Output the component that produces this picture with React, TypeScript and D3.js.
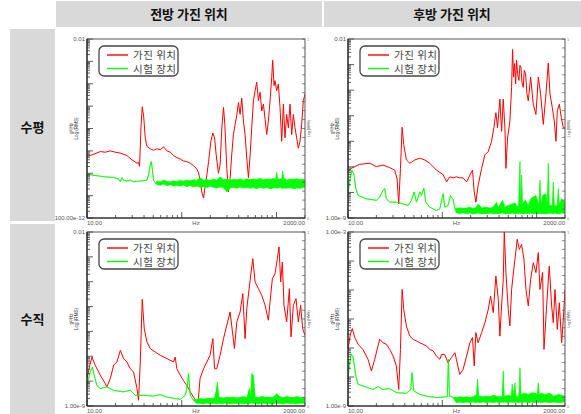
import React from 'react';
import * as d3 from 'd3';

// [Hz, log10(g²/Hz)]
type Pt = [number, number];
// [Hz, log10 low, log10 high] - green trace, min/max per step
type Band = [number, number, number];

const COL_TITLES = ['전방 가진 위치', '후방 가진 위치'];
const ROW_TITLES = ['수평', '수직'];
const LEGEND_LABELS = ['가진 위치', '시험 장치'];
const X_DOMAIN: [number, number] = [10, 2000];
const X_LABELS = ['10.00', 'Hz', '2000.00'];

// decade range per panel [bottom, top], order: 전방-수평, 후방-수평, 전방-수직, 후방-수직
const Y_DECADES: [number, number][] = [[-10, -2], [-9, -2], [-9, -2], [-9, -3]];
const Y_LABELS: [string, string][] = [
  ['0.01', '100.00e-12'],
  ['0.01', '1.00e-9'],
  ['0.01', '1.00e-9'],
  ['1.00e-3', '1.00e-9'],
];

// 전방 / 수평
const redFrontH: Pt[] = [
  [10, -7.25], [11.8, -7.15], [13.8, -7.03], [15.6, -7.06], [17.6, -7.0], [19.9, -7.06], [22.5, -7.1],
  [26.4, -7.21], [29.8, -7.4], [33.7, -7.55], [35.0, -7.51], [35.9, -7.69], [37.1, -5.97], [38.3, -5.03],
  [39.6, -5.44], [41.2, -6.42], [42.9, -6.8], [46.5, -6.91], [50.4, -6.97], [54.7, -6.91], [59.3, -6.95],
  [64.3, -6.82], [69.7, -7.0], [75.6, -7.06], [81.9, -7.21], [88.8, -7.3], [96.3, -7.36], [104, -7.45],
  [113, -7.48], [123, -7.55], [133, -7.66], [144, -7.81], [150, -7.96], [156, -8.31], [163, -8.84],
  [170, -9.11], [175, -8.69], [181, -8.31], [192, -7.48], [203, -6.57], [213, -6.2], [222, -6.42],
  [231, -7.18], [244, -8.0], [254, -7.63], [265, -5.97], [276, -5.06], [285, -5.82], [299, -7.78],
  [311, -8.84], [324, -8.23], [337, -7.18], [351, -6.27], [366, -5.82], [381, -5.4], [397, -4.84],
  [413, -5.37], [430, -4.64], [448, -5.67], [466, -6.27], [486, -7.33], [506, -8.2], [527, -7.18],
  [548, -5.97], [571, -4.76], [595, -4.31], [619, -3.93], [645, -4.76], [671, -4.38], [699, -5.22],
  [728, -4.91], [758, -5.59], [789, -6.27], [821, -5.67], [855, -4.76], [891, -3.71], [912, -2.95],
  [943, -4.08], [965, -3.86], [1005, -4.31], [1047, -4.01], [1090, -5.06], [1135, -6.57], [1182, -4.91],
  [1231, -6.42], [1281, -5.37], [1335, -5.97], [1390, -4.91], [1447, -6.27], [1507, -5.37], [1569, -5.97],
  [1634, -6.42], [1701, -6.88], [1772, -6.57], [1844, -5.82], [1920, -4.76], [2000, -4.46],
];
const greenFrontH: Band[] = [
  [10, -8.04, -8.04], [11.3, -8.08, -8.08], [12.7, -8.11, -8.11], [15.6, -8.16, -8.16], [19.1, -8.19, -8.19],
  [21.6, -8.26, -8.26], [22.5, -8.38, -8.38], [23.4, -8.2, -8.2], [24.3, -8.31, -8.31], [26.4, -8.35, -8.35],
  [28.6, -8.31, -8.31], [31.0, -8.38, -8.38], [36.5, -8.35, -8.35], [42.9, -8.31, -8.31], [44.7, -8.08, -8.08],
  [46.5, -7.63, -7.63], [47.6, -7.48, -7.48], [48.8, -7.78, -7.78], [50.4, -8.31, -8.31], [52.5, -8.42, -8.42],
  [54.7, -8.51, -8.36], [59.3, -8.54, -8.39], [64.3, -8.48, -8.31], [69.7, -8.55, -8.36], [75.6, -8.51, -8.39],
  [81.9, -8.57, -8.34], [88.8, -8.54, -8.37], [96.3, -8.58, -8.32], [104, -8.52, -8.36], [113, -8.6, -8.31],
  [123, -8.55, -8.34], [133, -8.61, -8.29], [144, -8.57, -8.32], [156, -8.63, -8.2], [170, -8.6, -8.31],
  [184, -8.64, -8.28], [199, -8.58, -8.32], [216, -8.63, -8.26], [234, -8.66, -8.31], [254, -8.61, -8.16],
  [276, -8.64, -8.29], [299, -8.84, -8.26], [324, -8.66, -8.31], [351, -8.63, -8.28], [381, -8.67, -8.29],
  [413, -8.61, -8.26], [448, -8.66, -8.31], [486, -8.63, -8.25], [527, -8.67, -8.29], [571, -8.64, -8.26],
  [619, -8.69, -8.28], [671, -8.63, -8.23], [728, -8.67, -8.29], [789, -8.64, -8.26], [855, -8.69, -8.28],
  [927, -8.66, -8.23], [981, -8.64, -8.26], [1005, -8.67, -7.96], [1030, -8.66, -8.28], [1090, -8.64, -8.26],
  [1135, -8.66, -8.26], [1163, -8.69, -7.9], [1192, -8.66, -8.28], [1231, -8.66, -8.23], [1281, -8.67, -8.31],
  [1390, -8.64, -8.26], [1507, -8.69, -8.28], [1634, -8.66, -8.25], [1772, -8.67, -8.29], [1920, -8.64, -8.26],
  [2000, -8.63, -8.32],
];

// 후방 / 수평
const redRearH: Pt[] = [
  [10, -7.19], [10.8, -7.06], [13.3, -6.9], [17.0, -6.86], [20.0, -6.99], [23.5, -6.93], [27.7, -7.03],
  [31.3, -7.13], [33.1, -7.46], [34.5, -8.45], [36.0, -7.06], [37.5, -5.45], [39.0, -6.13], [41.6, -6.73],
  [45.2, -6.86], [51.1, -6.73], [57.7, -6.66], [65.2, -6.73], [73.7, -6.86], [86.7, -7.13], [102, -7.3],
  [111, -7.59], [120, -7.39], [130, -7.43], [141, -7.39], [153, -7.43], [166, -7.43], [181, -7.59],
  [196, -7.32], [209, -7.13], [218, -7.98], [227, -8.38], [240, -7.72], [261, -7.06], [283, -6.53],
  [307, -6.4], [333, -6.0], [352, -5.47], [370, -4.88], [385, -5.47], [408, -4.35], [425, -5.61],
  [443, -4.35], [461, -5.47], [473, -7.06], [492, -5.87], [521, -5.21], [543, -3.89], [556, -2.41],
  [570, -3.49], [584, -2.96], [599, -3.76], [613, -2.83], [628, -3.36], [649, -3.62], [666, -3.03],
  [682, -3.1], [699, -3.69], [722, -3.89], [740, -3.23], [764, -3.36], [790, -4.15], [816, -4.42],
  [864, -3.49], [922, -4.55], [984, -4.95], [1042, -3.49], [1103, -4.15], [1177, -5.34], [1257, -4.15],
  [1330, -2.94], [1386, -4.15], [1467, -4.68], [1540, -5.21], [1605, -6.0], [1658, -4.81], [1741, -4.55],
  [1828, -5.08], [1920, -5.47], [2000, -5.47],
];
const greenRearH: Band[] = [
  [10, -8.05, -8.05], [10.4, -7.59, -7.59], [11.0, -7.13, -7.13], [11.6, -7.32, -7.32], [12.1, -7.85, -7.85],
  [12.8, -8.12, -8.12], [15.7, -8.25, -8.25], [20.0, -8.31, -8.31], [21.7, -8.18, -8.18], [23.5, -7.92, -7.92],
  [24.5, -7.85, -7.85], [25.5, -8.25, -8.25], [27.7, -8.38, -8.38], [32.6, -8.38, -8.38], [38.4, -8.45, -8.45],
  [43.4, -8.51, -8.51], [47.1, -8.31, -8.31], [50.2, -7.98, -7.98], [53.2, -8.38, -8.38], [57.7, -7.98, -7.98],
  [60.1, -8.12, -8.12], [63.6, -7.83, -7.83], [66.8, -8.38, -8.38], [73.7, -8.58, -8.58], [79.9, -8.64, -8.64],
  [86.7, -8.71, -8.71], [94.1, -8.64, -8.64], [102, -8.05, -8.05], [106, -8.58, -8.58], [115, -8.51, -8.51],
  [122, -8.12, -8.12], [130, -8.27, -8.27], [136, -8.64, -8.64],
  [141, -8.8, -8.62], [153, -8.82, -8.6], [166, -8.8, -8.62], [181, -8.83, -8.61], [196, -8.8, -8.58],
  [209, -8.84, -8.62], [227, -8.82, -8.6], [240, -8.8, -8.45], [261, -8.84, -8.61], [283, -8.82, -8.58],
  [307, -8.83, -8.6], [325, -8.8, -8.61], [347, -8.84, -8.57], [376, -8.82, -8.38], [392, -8.83, -8.6],
  [436, -8.8, -8.31], [461, -8.84, -8.58], [492, -8.82, -8.51], [521, -8.83, -8.49], [552, -8.8, -8.45],
  [589, -8.84, -8.41], [613, -8.82, -8.51], [644, -8.83, -8.58], [666, -8.8, -6.79], [676, -8.84, -8.51],
  [693, -8.82, -7.32], [710, -8.83, -8.51], [722, -8.84, -8.38], [764, -8.82, -8.31], [816, -8.83, -8.51],
  [864, -8.8, -8.25], [922, -8.84, -8.18], [984, -8.82, -8.12], [1059, -8.83, -8.51], [1085, -8.8, -7.52],
  [1112, -8.84, -8.51], [1158, -8.82, -8.12], [1257, -8.84, -8.05], [1298, -8.82, -8.51], [1330, -8.83, -6.86],
  [1363, -8.8, -8.51], [1467, -8.82, -8.51], [1503, -8.84, -7.59], [1540, -8.8, -8.51], [1658, -8.83, -8.51],
  [1699, -8.82, -7.85], [1741, -8.84, -8.51], [1828, -8.8, -8.25], [2000, -8.82, -8.38],
];

// 전방 / 수직
const redFrontV: Pt[] = [
  [10, -7.9], [10.7, -7.36], [11.3, -7.03], [12.2, -7.36], [13.8, -7.76], [15.6, -8.1], [16.2, -8.23],
  [17.6, -7.9], [19.1, -7.36], [20.7, -7.23], [22.5, -6.76], [24.3, -7.09], [26.4, -7.23], [28.6, -7.5],
  [31.0, -7.63], [33.7, -8.3], [35.0, -8.77], [36.5, -7.23], [38.3, -4.71], [40.2, -5.89], [42.9, -6.42],
  [46.5, -6.69], [52.5, -6.83], [59.3, -6.96], [69.7, -7.09], [81.9, -7.23], [85.3, -7.03], [88.8, -7.5],
  [96.3, -7.76], [104, -7.97], [113, -8.17], [123, -8.43], [133, -8.64], [144, -8.84], [150, -8.7],
  [156, -7.9], [170, -7.5], [184, -7.23], [199, -6.96], [213, -6.29], [222, -7.5], [234, -7.5],
  [254, -6.96], [276, -6.29], [299, -5.75], [324, -5.22], [343, -6.02], [360, -6.69], [381, -5.62],
  [413, -5.22], [441, -4.48], [466, -6.29], [486, -5.08], [527, -3.94], [562, -3.07], [595, -4.01],
  [645, -4.28], [699, -4.55], [758, -4.95], [821, -5.55], [855, -4.82], [905, -3.88], [965, -3.68],
  [1022, -3.07], [1064, -2.6], [1108, -4.01], [1153, -3.21], [1201, -4.95], [1281, -5.62], [1368, -4.28],
  [1424, -6.22], [1507, -4.95], [1607, -4.68], [1701, -5.62], [1800, -4.95], [1889, -5.89], [2000, -6.16],
];
const greenFrontV: Band[] = [
  [10, -8.17, -8.17], [10.8, -7.63, -7.63], [11.4, -7.43, -7.43], [11.9, -7.76, -7.76], [12.7, -8.17, -8.17],
  [13.8, -8.3, -8.3], [16.2, -8.23, -8.23], [19.1, -8.37, -8.37], [24.3, -8.43, -8.43], [28.6, -8.37, -8.37],
  [32.3, -8.57, -8.57], [39.6, -8.57, -8.57], [50.4, -8.6, -8.6], [59.3, -8.54, -8.54], [69.7, -8.64, -8.64],
  [85.3, -8.7, -8.7], [96.3, -8.73, -8.73], [109, -8.57, -8.57], [113, -8.3, -8.3], [118, -7.7, -7.7],
  [123, -8.57, -8.57], [133, -8.77, -8.77],
  [144, -8.9, -8.73], [156, -8.89, -8.7], [170, -8.92, -8.72], [184, -8.88, -8.69], [199, -8.9, -8.7],
  [222, -8.89, -8.68], [231, -8.92, -8.37], [238, -8.9, -8.03], [246, -8.89, -8.64], [276, -8.9, -8.68],
  [299, -8.88, -8.65], [324, -8.92, -8.66], [351, -8.89, -8.64], [381, -8.9, -8.68], [413, -8.88, -8.65],
  [448, -8.92, -8.62], [486, -8.89, -8.66], [518, -8.9, -8.3], [535, -8.89, -8.64], [548, -8.88, -7.7],
  [571, -8.9, -7.76], [595, -8.89, -8.64], [645, -8.92, -8.66], [699, -8.88, -8.62], [758, -8.9, -8.65],
  [821, -8.89, -8.64], [891, -8.92, -8.66], [965, -8.88, -8.6], [1005, -8.9, -8.5], [1090, -8.89, -8.64],
  [1182, -8.92, -8.66], [1281, -8.88, -8.62], [1390, -8.9, -8.65], [1507, -8.89, -8.66], [1634, -8.92, -8.62],
  [1772, -8.88, -8.65], [2000, -8.9, -8.68],
];

// 후방 / 수직
const redRearV: Pt[] = [
  [10, -7.05], [10.6, -6.53], [11.1, -6.33], [11.8, -6.64], [12.8, -6.87], [14.4, -7.05], [16.3, -7.39],
  [17.7, -7.79], [19.2, -7.39], [20.8, -6.93], [21.7, -6.7], [23.5, -6.82], [25.5, -6.87], [27.7, -7.05],
  [30.1, -7.28], [32.6, -7.62], [34.5, -8.43], [36.0, -7.05], [37.5, -4.98], [39.0, -5.67], [41.6, -6.24],
  [45.2, -6.59], [49.0, -6.7], [53.2, -6.76], [57.7, -6.82], [62.6, -6.87], [67.9, -6.93], [73.7, -7.05],
  [79.9, -7.1], [86.7, -7.28], [94.1, -7.39], [98.0, -7.22], [106, -7.22], [115, -7.51], [125, -7.33],
  [136, -7.16], [141, -7.39], [153, -7.91], [166, -7.74], [181, -7.28], [196, -6.82], [209, -6.64],
  [218, -7.62], [227, -6.47], [240, -6.82], [261, -6.47], [283, -6.13], [307, -5.67], [325, -5.21],
  [347, -5.78], [370, -4.52], [392, -5.32], [408, -6.59], [425, -5.55], [443, -4.63], [454, -2.97],
  [473, -4.4], [500, -5.67], [521, -6.24], [543, -4.98], [589, -3.94], [623, -3.25], [655, -3.6],
  [693, -3.43], [734, -3.94], [771, -4.98], [816, -5.55], [864, -4.63], [922, -4.06], [984, -4.4],
  [1042, -3.71], [1085, -4.98], [1158, -4.4], [1197, -7.05], [1277, -5.55], [1363, -4.17], [1443, -5.55],
  [1503, -6.13], [1566, -4.98], [1658, -6.36], [1741, -5.44], [1843, -6.82], [1920, -6.01], [2000, -4.98],
];
const greenRearV: Band[] = [
  [10, -8.08, -8.08], [10.4, -7.51, -7.51], [10.8, -7.22, -7.22], [11.3, -7.28, -7.28], [12.1, -7.97, -7.97],
  [12.8, -8.25, -8.25], [14.4, -8.31, -8.31], [16.3, -8.37, -8.37], [18.4, -8.43, -8.43], [20.8, -8.33, -8.33],
  [23.5, -8.43, -8.43], [27.7, -8.4, -8.4], [32.6, -8.54, -8.54], [41.6, -8.56, -8.56], [46.3, -8.43, -8.43],
  [47.8, -7.85, -7.85], [49.8, -8.48, -8.48], [57.7, -8.6, -8.6], [67.9, -8.66, -8.66], [86.7, -8.71, -8.71],
  [113, -8.68, -8.68], [116, -7.39, -7.39], [119, -8.68, -8.68], [122, -8.66, -8.66], [130, -8.71, -8.71],
  [141, -8.89, -8.71], [153, -8.86, -8.68], [166, -8.89, -8.7], [181, -8.86, -8.68], [196, -8.89, -8.71],
  [213, -8.86, -8.68], [231, -8.89, -8.6], [236, -8.86, -8.08], [244, -8.89, -8.66], [271, -8.86, -8.68],
  [294, -8.89, -8.66], [320, -8.86, -8.68], [347, -8.89, -8.63], [376, -8.86, -8.66], [408, -8.89, -8.68],
  [432, -8.86, -8.68], [443, -8.89, -7.79], [454, -8.86, -8.66], [500, -8.89, -8.63], [538, -8.86, -8.66],
  [552, -8.89, -8.25], [566, -8.86, -8.66], [589, -8.89, -8.2], [603, -8.86, -8.66], [649, -8.89, -8.66],
  [666, -8.86, -7.68], [682, -8.89, -8.6], [752, -8.86, -8.56], [816, -8.89, -8.6], [885, -8.86, -8.54],
  [960, -8.89, -8.56], [1017, -8.86, -8.6], [1042, -8.89, -8.2], [1068, -8.86, -8.6], [1103, -8.89, -8.56],
  [1226, -8.86, -8.6], [1386, -8.89, -8.56], [1503, -8.86, -8.66], [1699, -8.89, -8.6], [2000, -8.86, -8.66],
];

const RED_SERIES = [redFrontH, redRearH, redFrontV, redRearV];
const GREEN_SERIES = [greenFrontH, greenRearH, greenFrontV, greenRearV];

const KR = '"Noto Sans CJK KR", "Noto Sans", sans-serif';
const SMALL = '"Liberation Sans", Arial, sans-serif';

function Panel({ id, x0, y0, w, h, red, green, dec, lab }: {
  id: number; x0: number; y0: number; w: number; h: number;
  red: Pt[]; green: Band[]; dec: [number, number]; lab: [string, string];
}) {
  const x1 = x0 + w;
  const y1 = y0 + h;
  const x = d3.scaleLog().domain(X_DOMAIN).range([x0, x1]);
  const y = d3.scaleLog().domain([10 ** dec[0], 10 ** dec[1]]).range([y1, y0]);
  const r = d3.scaleLinear().domain([0, 1]).range([y1, y0]);
  const line = d3.line<Pt>().x(d => x(d[0])).y(d => y(10 ** d[1]));
  const band = d3.area<Band>().x(d => x(d[0])).y0(d => y(10 ** d[1])).y1(d => y(10 ** d[2]));
  const major = (t: number) => Math.abs(Math.log10(t) - Math.round(Math.log10(t))) < 1e-6;
  const clip = `plotclip${id}`;
  const lx = x0 + 12;
  const ly = y0 + 7;
  const midY = y0 + h / 2;

  return (
    <g>
      <defs>
        <clipPath id={clip}><rect x={x0} y={y0} width={w} height={h} /></clipPath>
      </defs>
      <g clipPath={`url(#${clip})`}>
        <path d={line(red) || ''} fill="none" stroke="#ff0000" strokeWidth={1} strokeLinejoin="round" />
        <path d={band(green) || ''} fill="#00ff00" stroke="#00ff00" strokeWidth={0.7} strokeLinejoin="round" />
      </g>

      {y.ticks().map((t, i) => (
        <line key={'y' + i} x1={x0} x2={x0 + (major(t) ? 6 : 3)} y1={y(t)} y2={y(t)} stroke="#333" strokeWidth={0.8} />
      ))}
      {x.ticks().map((t, i) => (
        <line key={'x' + i} x1={x(t)} x2={x(t)} y1={y1} y2={y1 - (major(t) ? 6 : 3)} stroke="#333" strokeWidth={0.8} />
      ))}
      {r.ticks(20).map((t, i) => (
        <line key={'r' + i} x1={x1 - 3} x2={x1} y1={r(t)} y2={r(t)} stroke="#555" strokeWidth={0.7} />
      ))}
      <rect x={x0} y={y0} width={w} height={h} fill="none" stroke="#555" strokeWidth={1} />
      <line x1={x0} x2={x0} y1={y0} y2={y1} stroke="#222" strokeWidth={1.2} />
      <line x1={x0} x2={x1} y1={y1} y2={y1} stroke="#222" strokeWidth={1.2} />

      <g fontFamily={SMALL} fontSize={6} fill="#555">
        <text x={x0 - 2} y={y0 + 2} textAnchor="end">{lab[0]}</text>
        <text x={x0 - 2} y={y1 + 2} textAnchor="end">{lab[1]}</text>
        <text x={x0} y={y1 + 6.5}>{X_LABELS[0]}</text>
        <text x={(x0 + x1) / 2} y={y1 + 6.5} textAnchor="middle">{X_LABELS[1]}</text>
        <text x={x1} y={y1 + 6.5} textAnchor="end">{X_LABELS[2]}</text>
        <text x={x1 + 2} y={y0 + 2} fontSize={4} fill="#778">1</text>
        <text x={x1 + 2} y={y1 + 2} fontSize={4} fill="#778">0</text>
      </g>
      <g fontFamily={SMALL} fontSize={4.6} fill="#333" textAnchor="middle">
        <text transform={`translate(${x0 - 14},${midY}) rotate(-90)`}>g²/Hz</text>
        <text transform={`translate(${x0 - 9.5},${midY}) rotate(-90)`}>Log (RMS)</text>
        <text transform={`translate(${x1 + 5},${midY}) rotate(-90)`} fontSize={3.6}>Log (RMS)</text>
      </g>

      <rect x={lx} y={ly} width={79} height={30} rx={5} fill="#fff" stroke="#444" strokeWidth={1.3} />
      <line x1={lx + 8} x2={lx + 29} y1={ly + 9} y2={ly + 9} stroke="#ff0000" strokeWidth={1.4} />
      <line x1={lx + 8} x2={lx + 29} y1={ly + 22.5} y2={ly + 22.5} stroke="#00ff00" strokeWidth={1.4} />
      <g fontFamily={KR} fontSize={10.5} fill="#444" letterSpacing={0.5}>
        <text x={lx + 34} y={ly + 13}>{LEGEND_LABELS[0]}</text>
        <text x={lx + 34} y={ly + 26.5}>{LEGEND_LABELS[1]}</text>
      </g>
    </g>
  );
}

export default function App() {
  const W = 581;
  const H = 414;
  const colX = [87, 348];
  const rowY = [39, 232];
  const plotW = 218;
  const plotH = [179, 174];

  return (
    <svg width={W} height={H} style={{ position: 'absolute', left: 0, top: 0, background: '#fff' }}>
      <rect x={0} y={0} width={W} height={H} fill="#fff" />
      <rect x={56} y={1} width={266} height={26} fill="#d9d9d9" />
      <rect x={324} y={1} width={257} height={26} fill="#d9d9d9" />
      <rect x={10} y={29} width={45} height={192} fill="#d9d9d9" />
      <rect x={10} y={224} width={45} height={190} fill="#d9d9d9" />
      <g fontFamily={KR} fontWeight={700} fontSize={13} fill="#111" textAnchor="middle">
        <text x={189} y={19}>{COL_TITLES[0]}</text>
        <text x={452} y={19}>{COL_TITLES[1]}</text>
        <text x={32.5} y={132}>{ROW_TITLES[0]}</text>
        <text x={32.5} y={324}>{ROW_TITLES[1]}</text>
      </g>
      {RED_SERIES.map((red, i) => (
        <Panel
          key={i}
          id={i}
          x0={colX[i % 2]}
          y0={rowY[Math.floor(i / 2)]}
          w={i % 2 === 0 ? plotW : plotW - 1}
          h={plotH[Math.floor(i / 2)]}
          red={red}
          green={GREEN_SERIES[i]}
          dec={Y_DECADES[i]}
          lab={Y_LABELS[i]}
        />
      ))}
    </svg>
  );
}
